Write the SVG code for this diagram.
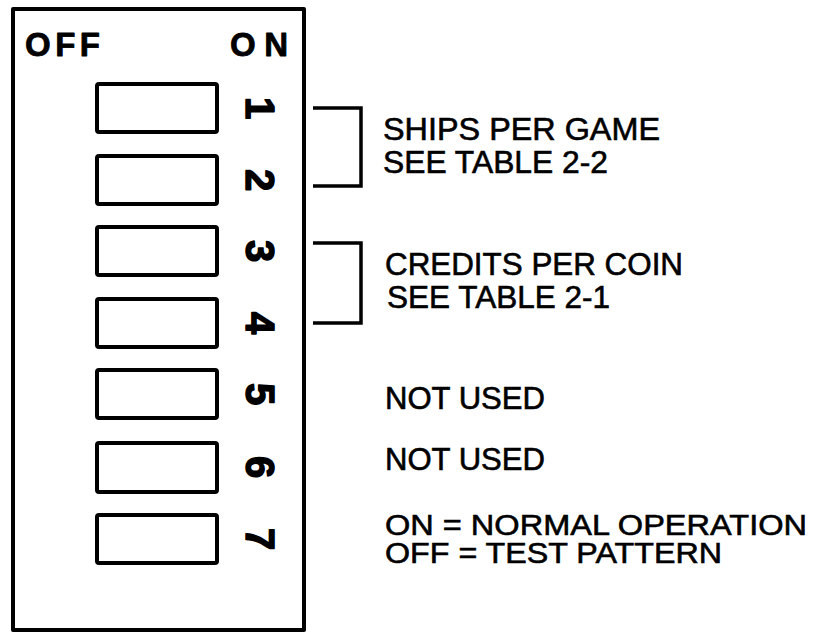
<svg xmlns="http://www.w3.org/2000/svg" width="822" height="633" viewBox="0 0 822 633">
<style>
.box{fill:none;stroke:#000;stroke-width:4;stroke-linejoin:round}
.sw{fill:#fff;stroke:#000;stroke-width:4;}
.br{fill:none;stroke:#000;stroke-width:3.5}
.hd{font-family:"Liberation Sans",Arial,sans-serif;font-weight:bold;font-size:33px;fill:#000;stroke:#000;stroke-width:0.8;stroke-linejoin:round}
.dg{font-family:"Liberation Sans",Arial,sans-serif;font-weight:bold;font-size:40px;fill:#000;text-anchor:middle;stroke:#000;stroke-width:1.5;stroke-linejoin:round}
.lb{font-family:"Liberation Sans",Arial,sans-serif;font-size:31.5px;fill:#000;stroke:#000;stroke-width:0.6}
.lc{font-family:"Liberation Sans",Arial,sans-serif;font-size:30px;fill:#000;stroke:#000;stroke-width:0.6}
</style>
<rect width="822" height="633" fill="#fff"/>
<g id="panel">
<rect class="box" x="13" y="9" width="291" height="621"/>
<text class="hd" x="25" y="56" textLength="75" lengthAdjust="spacing">OFF</text>
<text class="hd" x="230" y="56" textLength="58" lengthAdjust="spacing">ON</text>
</g>
<g id="sw1"><rect class="sw" x="97" y="84" width="120" height="48" rx="2"/><text class="dg" transform="translate(260,108) rotate(90)" y="14">1</text></g>
<g id="sw2"><rect class="sw" x="97" y="156" width="120" height="48" rx="2"/><text class="dg" transform="translate(260,180) rotate(90)" y="14">2</text></g>
<g id="sw3"><rect class="sw" x="97" y="227" width="120" height="48" rx="2"/><text class="dg" transform="translate(260,251) rotate(90)" y="14">3</text></g>
<g id="sw4"><rect class="sw" x="97" y="299" width="120" height="48" rx="2"/><text class="dg" transform="translate(260,323) rotate(90)" y="14">4</text></g>
<g id="sw5"><rect class="sw" x="97" y="370" width="120" height="48" rx="2"/><text class="dg" transform="translate(260,394) rotate(90)" y="14">5</text></g>
<g id="sw6"><rect class="sw" x="97" y="443" width="120" height="49" rx="2"/><text class="dg" transform="translate(260,467) rotate(90)" y="14">6</text></g>
<g id="sw7"><rect class="sw" x="97" y="515" width="120" height="48" rx="2"/><text class="dg" transform="translate(260,539) rotate(90)" y="14">7</text></g>
<g id="connectors">
<polyline class="br" points="313,108 361,108 361,186 313,186"/>
<polyline class="br" points="313,243 361,243 361,323 313,323"/>
</g>
<g id="labels">
<text class="lb" x="383" y="140" textLength="277" lengthAdjust="spacingAndGlyphs">SHIPS PER GAME</text>
<text class="lb" x="383" y="173" textLength="225" lengthAdjust="spacingAndGlyphs">SEE TABLE 2-2</text>
<text class="lb" x="385" y="275" textLength="298" lengthAdjust="spacingAndGlyphs">CREDITS PER COIN</text>
<text class="lb" x="387" y="308" textLength="223" lengthAdjust="spacingAndGlyphs">SEE TABLE 2-1</text>
<text class="lb" x="385" y="409" textLength="160" lengthAdjust="spacingAndGlyphs">NOT USED</text>
<text class="lb" x="385" y="470" textLength="160" lengthAdjust="spacingAndGlyphs">NOT USED</text>
<text class="lc" x="385" y="535" textLength="422" lengthAdjust="spacingAndGlyphs">ON = NORMAL OPERATION</text>
<text class="lc" x="385" y="563" textLength="337" lengthAdjust="spacingAndGlyphs">OFF = TEST PATTERN</text>
</g>
</svg>
